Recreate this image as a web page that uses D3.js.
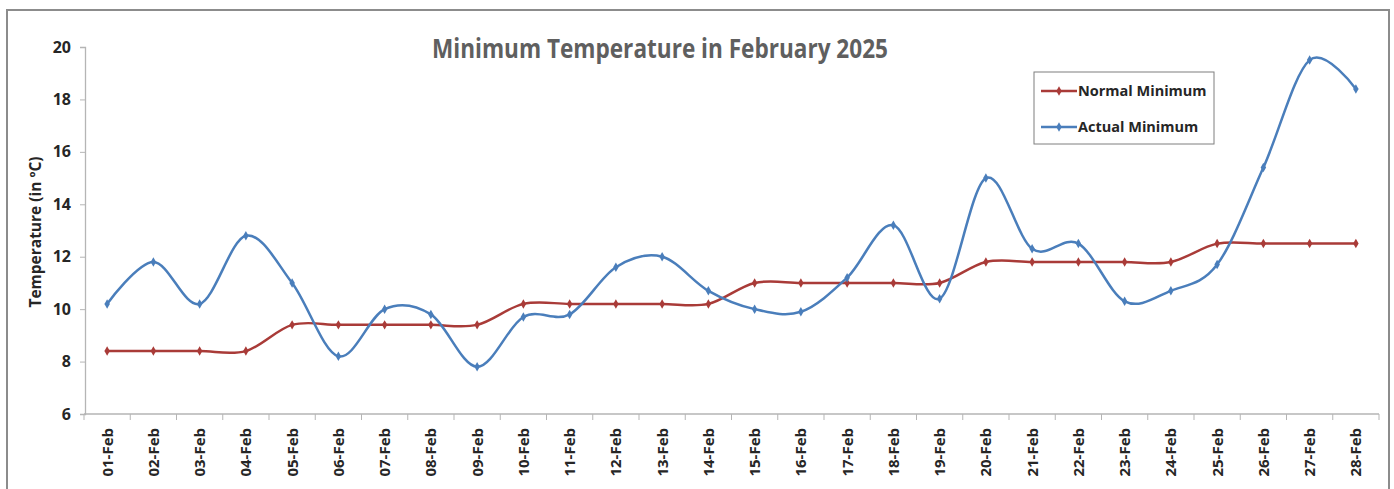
<!DOCTYPE html>
<html>
<head>
<meta charset="utf-8">
<script src="https://cdn.jsdelivr.net/npm/d3@7"></script>
<style>
  html, body { margin: 0; padding: 0; background: #fff; }
  svg { display: block; }
  text { font-family: "Open Sans", "Noto Sans", sans-serif; }
</style>
</head>
<body>
<svg id="chart" width="1394" height="489"></svg>
<script>
const categories = ["01-Feb","02-Feb","03-Feb","04-Feb","05-Feb","06-Feb","07-Feb","08-Feb","09-Feb","10-Feb",
  "11-Feb","12-Feb","13-Feb","14-Feb","15-Feb","16-Feb","17-Feb","18-Feb","19-Feb","20-Feb",
  "21-Feb","22-Feb","23-Feb","24-Feb","25-Feb","26-Feb","27-Feb","28-Feb"];
const normalMinimum = [8.4,8.4,8.4,8.4,9.4,9.4,9.4,9.4,9.4,10.2,10.2,10.2,10.2,10.2,11.0,11.0,11.0,11.0,11.0,11.8,11.8,11.8,11.8,11.8,12.5,12.5,12.5,12.5];
const actualMinimum = [10.2,11.8,10.2,12.8,11.0,8.2,10.0,9.8,7.8,9.7,9.8,11.6,12.0,10.7,10.0,9.9,11.2,13.2,10.4,15.0,12.3,12.5,10.3,10.7,11.7,15.4,19.5,18.4];
const yTicks = [6,8,10,12,14,16,18,20];
const seriesNames = ["Normal Minimum","Actual Minimum"];
const seriesColors = ["#a93b38","#4a7ebb"];
const titleText = "Minimum Temperature in February 2025";
const yTitle = "Temperature (in \u00BAC)";

const svg = d3.select("#chart");

// outer border
svg.append("rect").attr("x",7).attr("y",10).attr("width",1382).attr("height",500)
  .attr("fill","#fff").attr("stroke","#8c8c8c").attr("stroke-width",2);

const plot = {left:84, right:1379, top:47, bottom:414};

const x = d3.scaleBand().domain(categories).range([plot.left, plot.right]).paddingInner(0).paddingOuter(0);
const y = d3.scaleLinear().domain([6,20]).range([plot.bottom, plot.top]);
const cx = d => x(d) + x.bandwidth()/2;

// y axis
const yAxis = svg.append("g").attr("transform",`translate(${plot.left+1},0)`)
  .call(d3.axisLeft(y).tickValues(yTicks).tickSize(5).tickPadding(9).tickFormat(d3.format("d")));
yAxis.select(".domain").attr("stroke","#b5b5b5").attr("stroke-width",1.3);
yAxis.selectAll(".tick line").attr("stroke","#b5b5b5");
yAxis.selectAll(".tick text").attr("fill","#262626").attr("font-size",16).attr("font-weight","bold");

// x axis
const xAxisG = svg.append("g").attr("transform",`translate(0,${plot.bottom})`);
xAxisG.append("line").attr("x1",plot.left).attr("x2",plot.right).attr("y1",0).attr("y2",0)
  .attr("stroke","#b5b5b5").attr("stroke-width",1.3);
const boundaries = categories.map(c => x(c)).concat([plot.right]);
xAxisG.selectAll("line.tk").data(boundaries).enter().append("line").attr("class","tk")
  .attr("x1",d=>d).attr("x2",d=>d).attr("y1",0).attr("y2",6).attr("stroke","#b5b5b5");
xAxisG.selectAll("text.lbl").data(categories).enter().append("text").attr("class","lbl")
  .attr("transform", d => `translate(${cx(d)+5.5},14) rotate(-90)`)
  .attr("text-anchor","end").attr("font-size",15).attr("font-weight","bold").attr("fill","#262626")
  .text(d=>d);

// y title
svg.append("text").attr("transform","translate(41,232) rotate(-90)")
  .attr("text-anchor","middle").attr("font-size",15.5).attr("font-weight","bold").attr("fill","#262626")
  .text(yTitle);

// title
svg.append("text").attr("x",660).attr("y",58).attr("text-anchor","middle")
  .attr("font-size",26).attr("font-weight","bold").attr("fill","#5f5f5f")
  .attr("textLength",456).attr("lengthAdjust","spacingAndGlyphs")
  .text(titleText);

// lines
const line = d3.line().x((d,i)=>cx(categories[i])).y(d=>y(d)).curve(d3.curveCardinal.tension(0));
const data = [normalMinimum, actualMinimum];
data.forEach((s,k) => {
  svg.append("path").datum(s).attr("d",line).attr("fill","none")
    .attr("stroke",seriesColors[k]).attr("stroke-width",2.5);
  svg.selectAll(null).data(s).enter().append("path")
    .attr("transform",(d,i)=>`translate(${cx(categories[i])},${y(d)})`)
    .attr("d",d3.symbol().type(d3.symbolDiamond).size(26))
    .attr("fill",seriesColors[k]);
});

// legend
const lg = svg.append("g");
lg.append("rect").attr("x",1034).attr("y",72).attr("width",180).attr("height",72)
  .attr("fill","#fff").attr("stroke","#7f7f7f").attr("stroke-width",1);
seriesNames.forEach((n,k) => {
  const ly = 91 + k*36;
  lg.append("line").attr("x1",1041).attr("x2",1077).attr("y1",ly).attr("y2",ly)
    .attr("stroke",seriesColors[k]).attr("stroke-width",2.5);
  lg.append("path").attr("transform",`translate(1059,${ly})`)
    .attr("d",d3.symbol().type(d3.symbolDiamond).size(26)).attr("fill",seriesColors[k]);
  lg.append("text").attr("x",1078).attr("y",ly+5).attr("font-size",14.5).attr("font-weight","bold")
    .attr("fill","#262626").text(n);
});
</script>
</body>
</html>
